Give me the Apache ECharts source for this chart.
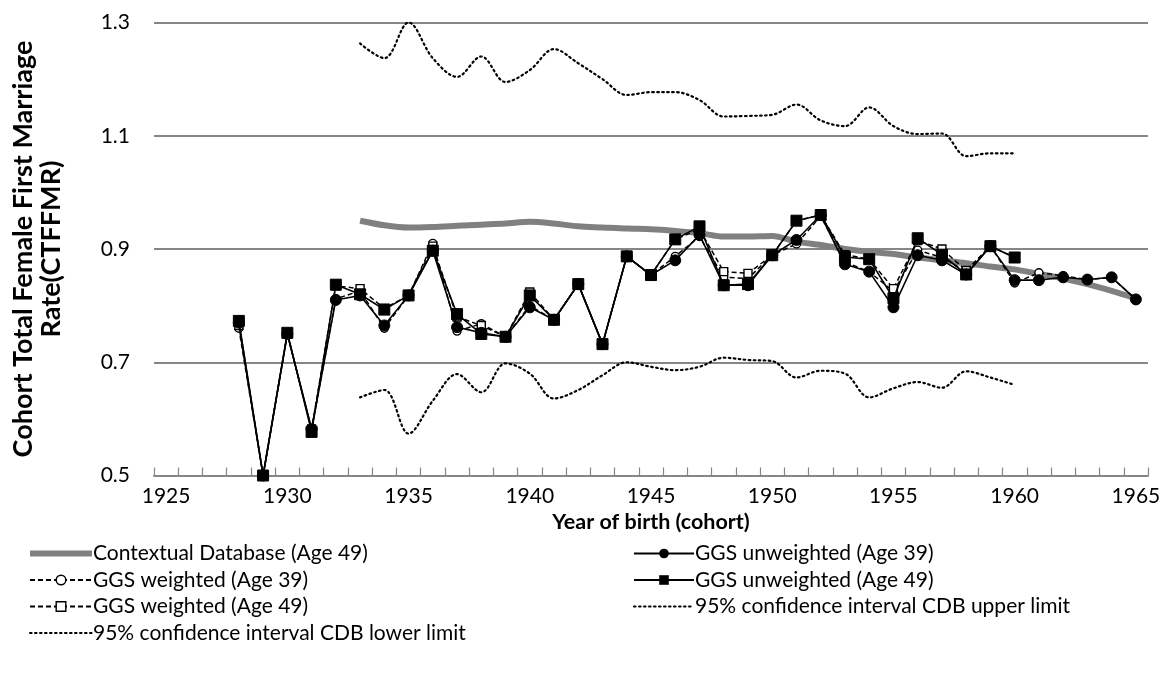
<!DOCTYPE html>
<html>
<head>
<meta charset="utf-8">
<script src="https://cdn.jsdelivr.net/npm/echarts@6/dist/echarts.min.js"></script>
<style>
html,body{margin:0;padding:0;background:#fff;}
#chart{width:1169px;height:684px;}
</style>
</head>
<body>
<div id="chart"></div>
<script>
// ---- data ----
const years = [];
for (let y = 1925; y <= 1965; y++) years.push(String(y));

const yTicks = [0.5, 0.7, 0.9, 1.1, 1.3];

// Contextual Database (Age 49), 1933-1965
const cdbStart = 1933;
const cdb = [0.950,0.942,0.938,0.939,0.941,0.943,0.945,0.948,0.945,0.940,0.938,0.936,0.935,0.932,0.928,0.922,0.922,0.923,0.913,0.907,0.900,0.895,0.891,0.885,0.880,0.875,0.869,0.864,0.856,0.848,0.838,0.826,0.813];

// GGS series start 1928
const ggsStart = 1928;
const u39 = [0.770,0.500,0.750,0.582,0.810,0.818,0.765,0.818,0.897,0.762,0.752,0.745,0.797,0.775,0.838,0.732,0.887,0.854,0.880,0.925,0.836,0.836,0.889,0.916,0.960,0.873,0.860,0.797,0.889,0.880,0.855,0.905,0.845,0.845,0.850,0.846,0.850,0.811];
const w39 = [0.760,0.500,0.750,0.582,0.812,0.826,0.760,0.818,0.910,0.755,0.768,0.745,0.800,0.775,0.838,0.732,0.887,0.854,0.887,0.922,0.850,0.848,0.889,0.909,0.958,0.877,0.860,0.825,0.898,0.885,0.860,0.905,0.840,0.858,0.853,0.846,0.850,0.811];
const u49 = [0.773,0.500,0.752,0.577,0.837,0.820,0.793,0.818,0.897,0.785,0.750,0.745,0.818,0.775,0.838,0.732,0.887,0.854,0.917,0.940,0.836,0.838,0.889,0.950,0.960,0.886,0.882,0.813,0.919,0.890,0.855,0.905,0.885];
const w49 = [0.765,0.500,0.750,0.582,0.835,0.830,0.795,0.818,0.905,0.780,0.765,0.745,0.824,0.775,0.838,0.732,0.887,0.854,0.917,0.935,0.860,0.857,0.889,0.950,0.960,0.890,0.882,0.830,0.915,0.900,0.862,0.905,0.885];

// 95% CI of CDB, 1933-1960
const ciStart = 1933;
const ciUpper = [1.263,1.237,1.300,1.237,1.204,1.240,1.195,1.216,1.253,1.228,1.200,1.172,1.177,1.177,1.163,1.134,1.135,1.137,1.155,1.127,1.117,1.150,1.117,1.103,1.104,1.064,1.069,1.069];
const ciLower = [0.638,0.651,0.574,0.632,0.679,0.647,0.698,0.680,0.636,0.651,0.677,0.700,0.692,0.686,0.692,0.708,0.704,0.702,0.673,0.685,0.680,0.638,0.654,0.665,0.655,0.684,0.673,0.660];

const names = {
  cdb: 'Contextual Database (Age 49)',
  u39: 'GGS unweighted (Age 39)',
  w39: 'GGS weighted (Age 39)',
  u49: 'GGS unweighted (Age 49)',
  w49: 'GGS weighted (Age 49)',
  up: '95% confidence interval CDB upper limit',
  lo: '95% confidence interval CDB lower limit'
};

function pad(start, arr) {
  const out = years.map(() => null);
  arr.forEach((v, i) => { out[start - 1925 + i] = v; });
  return out;
}

const FONT = 'Lato';
const chart = echarts.init(document.getElementById('chart'), null, {renderer: 'canvas'});

const ciStyle = {color: '#000', width: 2.2, type: [1.6, 3.4], cap: 'round'};
const noMark = {opacity: 0};
const hollowMark = {color: '#fff', borderColor: '#000', borderWidth: 1.4};

const legendText = {fontFamily: FONT, fontSize: 21, color: '#000', lineHeight: 20, padding: [0, 0, 0, -4]};

const option = {
  animation: false,
  backgroundColor: '#fff',
  textStyle: {fontFamily: FONT},
  grid: {left: 154, right: 21, top: 22.5, bottom: 208.5, containLabel: false},
  xAxis: {
    type: 'category',
    data: years,
    boundaryGap: true,
    name: 'Year of birth (cohort)',
    nameLocation: 'middle',
    nameGap: 36,
    nameTextStyle: {fontFamily: FONT, fontWeight: 'bold', fontSize: 21.5, color: '#000'},
    axisLine: {lineStyle: {color: '#868686', width: 2}},
    axisTick: {show: true, inside: true, length: 8, interval: 0, lineStyle: {color: '#868686', width: 1.2}},
    axisLabel: {interval: 4, fontFamily: FONT, fontSize: 21, color: '#000', margin: 10},
    splitLine: {show: false}
  },
  yAxis: {
    type: 'value',
    min: 0.5, max: 1.3, interval: 0.2,
    name: 'Cohort Total Female First Marriage\nRate(CTFFMR)',
    nameLocation: 'middle',
    nameGap: 89,
    nameTextStyle: {fontFamily: FONT, fontWeight: 'bold', fontSize: 27, color: '#000', lineHeight: 28},
    axisLine: {show: false},
    axisTick: {show: false},
    axisLabel: {fontFamily: FONT, fontSize: 21, color: '#000', margin: 24,
      formatter: v => yTicks.includes(+v.toFixed(1)) ? v.toFixed(1) : ''},
    splitLine: {lineStyle: {color: '#868686', width: 2}}
  },
  legend: [
    {
      orient: 'vertical', left: 22, top: 538, itemGap: 5.5, itemWidth: 62, itemHeight: 12,
      textStyle: legendText,
      data: [
        {name: names.cdb, itemStyle: noMark, lineStyle: {width: 6, color: '#808080'}},
        {name: names.w39, itemStyle: hollowMark},
        {name: names.w49, itemStyle: hollowMark},
        {name: names.lo, itemStyle: noMark}
      ]
    },
    {
      orient: 'vertical', left: 628, top: 538, itemGap: 5.5, itemWidth: 60, itemHeight: 12,
      textStyle: legendText,
      data: [
        {name: names.u39},
        {name: names.u49},
        {name: names.up, itemStyle: noMark}
      ]
    }
  ],
  series: [
    {name: names.cdb, type: 'line', data: pad(cdbStart, cdb), symbol: 'none', smooth: 0.3,
      lineStyle: {color: '#808080', width: 6}, itemStyle: {color: '#808080'}, z: 1},
    {name: names.up, type: 'line', data: pad(ciStart, ciUpper), symbol: 'none', smooth: 0.35,
      lineStyle: ciStyle, itemStyle: {color: '#000'}, z: 2},
    {name: names.lo, type: 'line', data: pad(ciStart, ciLower), symbol: 'none', smooth: 0.35,
      lineStyle: ciStyle, itemStyle: {color: '#000'}, z: 2},
    {name: names.w39, type: 'line', data: pad(ggsStart, w39), symbol: 'circle', symbolSize: 8,
      lineStyle: {color: '#000', width: 1.5, type: [5, 3]}, itemStyle: hollowMark, z: 3},
    {name: names.w49, type: 'line', data: pad(ggsStart, w49), symbol: 'rect', symbolSize: 8,
      lineStyle: {color: '#000', width: 1.5, type: [5, 3]}, itemStyle: hollowMark, z: 4},
    {name: names.u39, type: 'line', data: pad(ggsStart, u39), symbol: 'circle', symbolSize: 11,
      lineStyle: {color: '#000', width: 1.6}, itemStyle: {color: '#000', borderColor: '#000'}, z: 5},
    {name: names.u49, type: 'line', data: pad(ggsStart, u49), symbol: 'rect', symbolSize: 11,
      lineStyle: {color: '#000', width: 1.6}, itemStyle: {color: '#000', borderColor: '#000'}, z: 6}
  ]
};
chart.setOption(option);
</script>
</body>
</html>
